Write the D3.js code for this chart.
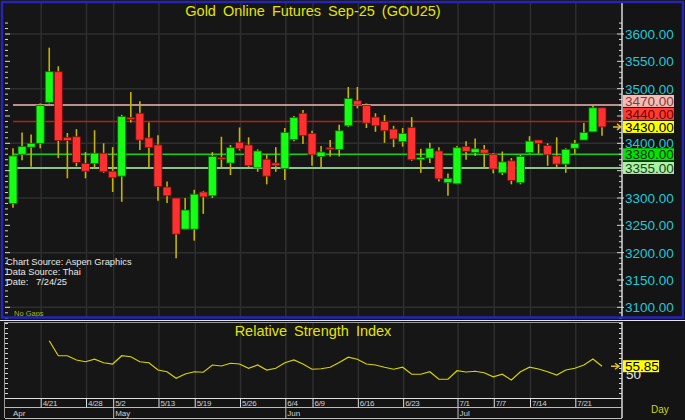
<!DOCTYPE html>
<html><head><meta charset="utf-8">
<script src="https://cdn.jsdelivr.net/npm/d3@7"></script>
<style>
body{margin:0;background:#141414;overflow:hidden;}
svg{display:block;font-family:"Liberation Sans",Arial,sans-serif;}
</style></head><body>
<svg id="c" width="685" height="420"></svg>
<script>
// ---- data ----
const tickDates = ["4/21","4/28","5/2","5/13","5/19","5/26","6/4","6/9","6/16","6/23","7/1","7/7","7/14","7/21"];
const tickIndex = [3,8,11,16,20,25,30,33,38,43,49,53,57,62];
const monthNames = ["Apr","May","Jun","Jul"];
const monthIndex = [0,11,30,49];
const openP  = [3290,3380,3393,3400,3475,3531,3411,3412,3363,3363,3382,3349,3340,3447,3455,3410,3397,3320,3300,3243,3243,3311,3304,3374,3364,3402,3397,3355,3371,3364,3354,3407,3455,3418,3376,3392,3389,3432,3478,3469,3448,3440,3426,3403,3429,3370,3373,3386,3328,3326,3394,3383,3389,3380,3346,3368,3328,3383,3406,3396,3377,3362,3391,3406,3421,3465];
const highP  = [3391,3420,3416,3473,3575,3541,3419,3426,3384,3424,3400,3393,3452,3494,3477,3438,3415,3330,3300,3300,3315,3313,3384,3412,3397,3429,3411,3389,3380,3393,3428,3450,3461,3423,3395,3406,3434,3503,3503,3473,3455,3452,3432,3428,3448,3390,3401,3393,3345,3395,3404,3409,3397,3382,3385,3373,3379,3413,3406,3400,3411,3391,3406,3437,3469,3465];
const lowP   = [3282,3369,3357,3391,3473,3373,3336,3358,3336,3355,3346,3311,3293,3438,3388,3355,3295,3291,3190,3243,3222,3271,3300,3356,3342,3387,3355,3348,3325,3348,3333,3404,3399,3359,3356,3376,3376,3430,3464,3428,3421,3401,3393,3394,3368,3346,3364,3330,3304,3325,3370,3377,3355,3345,3342,3325,3325,3381,3381,3359,3356,3346,3381,3406,3421,3414];
const closeP = [3377,3394,3400,3469,3531,3405,3405,3365,3349,3382,3348,3337,3449,3444,3406,3392,3321,3304,3234,3278,3307,3302,3376,3371,3392,3390,3359,3386,3340,3359,3420,3447,3414,3379,3384,3389,3423,3482,3470,3437,3432,3423,3408,3418,3370,3374,3391,3335,3336,3392,3385,3390,3382,3353,3366,3332,3376,3404,3400,3379,3362,3389,3400,3420,3465,3430];
const rsi = [null,null,null,null,76.2,64.2,64.2,60.8,59.4,61.4,58.6,57.6,64.2,63.4,59.4,58.6,52.8,51.4,46.2,49.6,51.4,51,56.8,56,58.2,57.6,54.2,56.8,52.8,54.2,58.6,60.8,57.6,53.4,53.8,55,58.8,63,61.4,57.6,56.8,55,53.4,55,49.4,49.4,51.4,45.4,45.4,52.2,51.2,51.8,50.6,47.4,49.4,44.8,51.4,55,53.6,51.4,48.8,52.8,54.2,56.8,61.6,55.85];
const priceTicks = [3100,3150,3200,3250,3300,3350,3400,3450,3500,3550,3600];
const gridPrices = [3100,3200,3300,3400,3500,3600];
const refValues = [3470,3440,3380,3355];
const refLine  = ["#f2b8b4","#b81c1c","#12d012","#8cc48c"];
const refBox   = ["#f6bcb4","#ff3a30","#00e400","#a8f2a0"];
const refText  = ["#7a4040","#700000","#063006","#204020"];
const lastPrice = 3430;
const lastRsi = 55.85;
const rsiLabel = 50;

// ---- layout ----
const svg = d3.select("#c");
const L=5, R=622, T=3, B=317;
const RT=322, RB=398;
const x = d3.scaleLinear().domain([0,65]).range([13,602]);
const y = d3.scaleLinear().domain([3300,3600]).range([198,34]);
const yr = d3.scaleLinear().domain([30.4,91.2]).range([RB,RT]);
const idx = d3.range(openP.length);

svg.append("rect").attr("width",685).attr("height",420).attr("fill","#141414");
svg.append("rect").attr("x",L).attr("y",T).attr("width",R-L).attr("height",B-T).attr("fill","#161616");

// grid
const g = svg.append("g");
g.selectAll("line.h").data(gridPrices).join("line")
 .attr("x1",L).attr("x2",R).attr("y1",d=>y(d)).attr("y2",d=>y(d))
 .attr("stroke","#2e2e2e").attr("stroke-width",1.5);
g.selectAll("line.v").data(tickIndex).join("line")
 .attr("x1",d=>x(d)+1).attr("x2",d=>x(d)+1).attr("y1",T).attr("y2",B)
 .attr("stroke","#2e2e2e").attr("stroke-width",1.5);

// reference lines
svg.selectAll("line.ref").data(refValues).join("line")
 .attr("x1",x(0)).attr("x2",R).attr("y1",d=>y(d)).attr("y2",d=>y(d))
 .attr("stroke",(d,i)=>refLine[i]).attr("stroke-width",(d,i)=>i==3?2:1.6);

// candles
const cg = svg.append("g");
cg.selectAll("line.w").data(idx).join("line")
 .attr("x1",i=>x(i)).attr("x2",i=>x(i)).attr("y1",i=>y(highP[i])).attr("y2",i=>y(lowP[i]))
 .attr("stroke","#c4b400").attr("stroke-width",1.6);
cg.selectAll("rect").data(idx).join("rect")
 .attr("x",i=>x(i)-4).attr("width",8)
 .attr("y",i=>y(Math.max(openP[i],closeP[i])))
 .attr("height",i=>Math.max(1.5,Math.abs(y(openP[i])-y(closeP[i]))))
 .attr("fill",i=>closeP[i]>=openP[i]?"#14ff14":"#ff3030")
 .attr("stroke",i=>closeP[i]>=openP[i]?"#0a6a0a":"#7a1010").attr("stroke-width",0.8);

// left axis ticks
const minor = d3.range(3080,3630,10);
svg.selectAll("line.lt").data(minor).join("line")
 .attr("x1",L).attr("x2",d=>d%50==0?L+5:L+3).attr("y1",d=>y(d)).attr("y2",d=>y(d))
 .attr("stroke","#d8d8d8").attr("stroke-width",1);
// right axis
svg.append("line").attr("x1",R).attr("x2",R).attr("y1",T).attr("y2",B).attr("stroke","#d8d8d8").attr("stroke-width",1.5);
svg.selectAll("line.rt").data(minor).join("line")
 .attr("x1",d=>d%50==0?R-5:R-3).attr("x2",d=>d%50==0?R+2:R).attr("y1",d=>y(d)).attr("y2",d=>y(d))
 .attr("stroke","#d8d8d8").attr("stroke-width",1);

// label boxes with collision stacking (bottom-up)
const boxes = refValues.map((v,i)=>({v,bg:refBox[i],tc:refText[i]}));
boxes.push({v:lastPrice,bg:"#ffff00",tc:"#000000",last:true});
boxes.sort((a,b)=>y(b.v)-y(a.v));
let prevTop = Infinity;
boxes.forEach(b=>{ let c=y(b.v); if(c+6>prevTop-1) c=prevTop-1-6; b.c=c; prevTop=c-6; });

// price labels (those fully hidden behind a box are skipped)
const visibleTicks = priceTicks.filter(p=>!boxes.some(b=>Math.abs(b.c-y(p))<8));
svg.selectAll("text.pl").data(visibleTicks).join("text")
 .attr("x",R+3).attr("y",d=>y(d)+5).attr("font-size",13.5).attr("fill","#22c8d8").text(d=>d.toFixed(2));

const bg = svg.append("g");
bg.selectAll("rect").data(boxes).join("rect")
 .attr("x",R+1).attr("y",d=>d.c-6).attr("width",51).attr("height",12).attr("fill",d=>d.bg);
bg.selectAll("text").data(boxes).join("text")
 .attr("x",R+3).attr("y",d=>d.c+5).attr("font-size",13.5).attr("fill",d=>d.tc).text(d=>d.v.toFixed(2));
// last-price arrow
function arrow(cx,cy){
  svg.append("path").attr("d",`M${cx-5},${cy}L${cx+2},${cy}M${cx-1},${cy-3}L${cx+3},${cy}L${cx-1},${cy+3}`)
   .attr("stroke","#e0c020").attr("stroke-width",1.4).attr("fill","none");
}
arrow(R-4,y(lastPrice));

// titles
svg.append("text").attr("x",313).attr("y",16).attr("text-anchor","middle").attr("font-size",14.5)
 .attr("fill","#e4e400").attr("word-spacing",3).text("Gold Online Futures Sep-25 (GOU25)");
const src = ["Chart Source: Aspen Graphics","Data Source: Thai","Date:   7/24/25"];
svg.selectAll("text.src").data(src).join("text").attr("x",6).attr("y",(d,i)=>265+i*10.2)
 .attr("font-size",9.3).attr("fill","#e8e8e8").attr("xml:space","preserve").style("white-space","pre").text(d=>d);
svg.append("text").attr("x",14).attr("y",316).attr("font-size",7.5).attr("fill","#b4b400").text("No Gaps");

// blue frame
svg.append("rect").attr("x",2).attr("y",2).attr("width",681).attr("height",315.5)
 .attr("fill","none").attr("stroke","#2424b8").attr("stroke-width",2.5);
svg.append("line").attr("x1",0).attr("x2",685).attr("y1",320.5).attr("y2",320.5).attr("stroke","#e4e4e4").attr("stroke-width",1);

// RSI panel
svg.append("rect").attr("x",L).attr("y",RT).attr("width",R-L).attr("height",RB-RT).attr("fill","#161616");
svg.selectAll("line.rv").data(tickIndex).join("line")
 .attr("x1",d=>x(d)+1).attr("x2",d=>x(d)+1).attr("y1",RT).attr("y2",RB)
 .attr("stroke","#2e2e2e").attr("stroke-width",1.5);
svg.append("line").attr("x1",L).attr("x2",R).attr("y1",RT+0.5).attr("y2",RT+0.5).attr("stroke","#9a9a9a").attr("stroke-width",1);
svg.append("line").attr("x1",L-0.5).attr("x2",L-0.5).attr("y1",RT).attr("y2",418).attr("stroke","#9a9a9a").attr("stroke-width",1);
const rTicks = d3.range(34,92,4);
svg.selectAll("line.rl").data(rTicks).join("line")
 .attr("x1",L).attr("x2",L+3).attr("y1",d=>yr(d)).attr("y2",d=>yr(d)).attr("stroke","#d8d8d8");
svg.selectAll("line.rr").data(rTicks).join("line")
 .attr("x1",R-3).attr("x2",R).attr("y1",d=>yr(d)).attr("y2",d=>yr(d)).attr("stroke","#d8d8d8");
svg.append("line").attr("x1",R).attr("x2",R).attr("y1",RT).attr("y2",418).attr("stroke","#d8d8d8").attr("stroke-width",1.5);
const line = d3.line().defined(d=>d!=null).x((d,i)=>x(i)).y(d=>yr(d));
svg.append("path").datum(rsi).attr("d",line).attr("fill","none").attr("stroke","#d4d400").attr("stroke-width",1.2);
svg.append("text").attr("x",313).attr("y",336).attr("text-anchor","middle").attr("font-size",14.5)
 .attr("fill","#e4e400").attr("word-spacing",3).text("Relative Strength Index");
svg.append("text").attr("x",R+4).attr("y",yr(rsiLabel)+5).attr("font-size",13.5).attr("fill","#e8e8e8").text(rsiLabel);
svg.append("rect").attr("x",R+1).attr("y",yr(lastRsi)-6).attr("width",36).attr("height",12).attr("fill","#ffff00");
svg.append("text").attr("x",R+3).attr("y",yr(lastRsi)+5).attr("font-size",13.5).attr("fill","#000").text(lastRsi.toFixed(2));
arrow(R-6,yr(lastRsi));

// date axis
const ax = svg.append("g");
ax.append("line").attr("x1",L).attr("x2",R).attr("y1",RB+0.5).attr("y2",RB+0.5).attr("stroke","#e0e0e0");
ax.append("line").attr("x1",L).attr("x2",R).attr("y1",407.5).attr("y2",407.5).attr("stroke","#bdbdbd");
ax.append("line").attr("x1",L).attr("x2",R).attr("y1",418.5).attr("y2",418.5).attr("stroke","#bdbdbd");
ax.selectAll("line.dt").data(tickIndex).join("line")
 .attr("x1",d=>x(d)+1).attr("x2",d=>x(d)+1).attr("y1",RB).attr("y2",407).attr("stroke","#e0e0e0");
ax.selectAll("text.dt").data(tickIndex).join("text")
 .attr("x",d=>x(d)+2.5).attr("y",406).attr("font-size",8).attr("letter-spacing",-0.3).attr("fill","#d0d0d0")
 .text((d,i)=>tickDates[i]);
ax.selectAll("line.mt").data(monthIndex.slice(1)).join("line")
 .attr("x1",d=>x(d)+1).attr("x2",d=>x(d)+1).attr("y1",407).attr("y2",418).attr("stroke","#bdbdbd");
ax.selectAll("text.mt").data(monthIndex).join("text")
 .attr("x",(d,i)=>i==0?x(d):x(d)+2.5).attr("y",416).attr("font-size",8).attr("fill","#d0d0d0")
 .text((d,i)=>monthNames[i]);
svg.append("text").attr("x",651).attr("y",413).attr("font-size",10).attr("fill","#d4d400").text("Day");
</script></body></html>
